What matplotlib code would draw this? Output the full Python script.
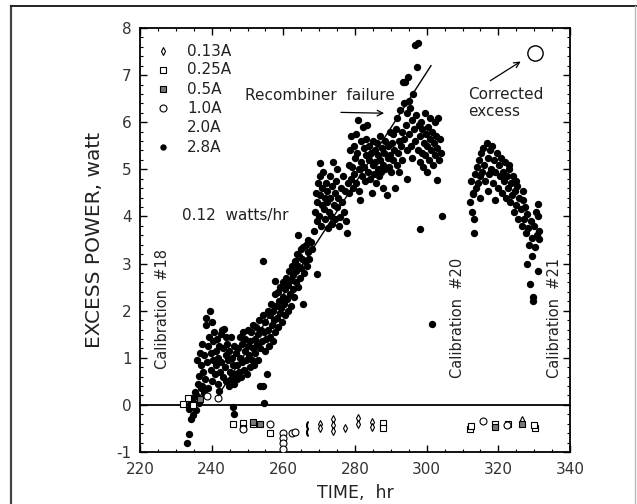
import matplotlib
matplotlib.use("Agg")
import matplotlib.pyplot as plt
from matplotlib.lines import Line2D
from matplotlib.ticker import MultipleLocator

plt.rcParams['font.family'] = ['DejaVu Sans']
plt.rcParams['axes.unicode_minus'] = False

# ---------------- data ----------------
# 2.8 A excess power points, grouped by stretch of the run: (time hr, power W)
seg_a = [(233.0,-0.80),(233.8,-0.62),(234.2,-0.30),(234.8,-0.22),(235.0,0.05),(235.3,0.28),
         (235.8,0.18),(236.2,0.45),(234.6,0.15),(236.6,0.05),(233.6,-0.08),(235.6,-0.10),
         (236.9,0.35),(234.0,0.02)]
seg_b = [(236.5,0.62),(236.8,1.10),(237.0,0.85),(237.2,0.40),(237.4,1.30),(237.6,0.70),(237.9,1.05),
         (238.1,0.55),(238.3,1.70),(238.5,1.85),(238.7,0.90),(238.9,1.25),(239.1,0.35),(239.3,1.45),
         (239.5,2.00),(239.7,0.75),(239.9,1.10),(240.1,0.50),(240.3,1.35),(240.5,0.95),(240.7,1.55),
         (240.9,0.65),(241.1,1.15),(241.3,0.85),(241.5,1.40),(241.7,0.45),(241.9,1.00),(242.1,1.25),
         (242.3,0.70),(242.5,1.50),(242.7,0.90),(242.9,1.60),(243.1,0.60),(243.3,1.20),(243.5,1.62),
         (243.7,0.80),(243.9,1.05),(244.1,0.50),(244.3,1.30),(244.5,0.95),(244.7,0.40),(244.9,1.15),
         (245.1,0.70),(245.3,1.45),(245.5,0.55),(245.7,1.00),(245.9,0.85),(246.1,1.25),(246.3,0.45),
         (246.5,0.65),(246.7,1.10),(236.0,0.95),(237.8,0.25),(240.0,1.75),(242.0,0.30),(244.0,1.45),
         (246.0,-0.05),(246.2,-0.20)]
seg_c = [(247.0,0.85),(247.2,0.55),(247.4,1.20),(247.6,0.70),(247.8,1.45),(248.0,1.00),(248.2,0.60),
         (248.4,1.30),(248.6,0.90),(248.8,1.55),(249.0,0.75),(249.2,1.15),(249.4,1.40),(249.6,0.95),
         (249.8,0.65),(250.0,1.25),(250.2,1.60),(250.4,1.05),(250.6,0.80),(250.8,1.35),(251.0,1.55),
         (251.2,0.95),(251.4,1.20),(251.6,1.70),(251.8,0.85),(252.0,1.40),(252.2,1.10),(252.4,1.65),
         (252.6,1.30),(252.8,0.95),(253.0,1.50),(253.2,1.80),(253.4,1.20),(253.6,0.40),(253.8,1.60),
         (254.0,1.35),(254.2,1.90),(254.3,3.06),(254.4,0.40),(254.5,0.04),(254.6,1.55),(254.8,1.15),
         (255.0,1.75),(255.2,1.40),(255.4,0.66),(255.6,2.00),(255.8,1.60),(256.0,1.25)]
seg_d = [(256.2,1.90),(256.4,1.45),(256.6,2.15),(256.8,1.70),(257.0,1.35),(257.2,2.00),(257.4,1.80),
         (257.6,2.35),(257.7,2.64),(257.8,1.55),(258.0,2.10),(258.2,1.85),(258.4,2.40),(258.6,1.65),
         (258.8,2.20),(259.0,1.95),(259.2,2.50),(259.4,2.05),(259.6,1.75),(259.8,2.30),(260.0,2.60),
         (260.2,2.15),(260.4,1.90),(260.6,2.45),(260.8,2.70),(261.0,2.25),(261.2,2.00),(261.4,2.55),
         (261.6,2.85),(261.8,2.35),(262.0,2.10),(262.2,2.65),(262.4,2.95),(262.6,2.45),(262.8,2.75),
         (263.0,2.30),(263.2,3.05),(263.4,2.60),(263.6,2.85),(263.8,3.20),(264.0,2.50),(264.1,3.60),
         (264.2,2.95),(264.4,3.15),(264.6,2.70),(264.8,3.30),(265.0,2.90),(265.2,3.10),(265.5,2.15),
         (265.6,3.35),(265.8,2.80),(266.0,3.05),(266.2,3.40),(266.5,2.95),(266.8,3.25),(267.0,3.50),
         (267.3,3.10),(267.6,3.45),(268.0,3.30),(269.4,2.77)]
seg_e = [(268.6,3.70),(268.9,4.10),(269.1,4.50),(269.3,3.90),(269.5,4.30),(269.7,4.70),(269.9,4.00),
         (270.1,4.45),(270.2,5.13),(270.3,4.85),(270.5,3.80),(270.7,4.25),(270.9,4.60),(271.1,4.95),
         (271.3,4.15),(271.5,4.40),(271.7,3.95),(271.9,4.70),(272.1,4.30),(272.3,4.55),(272.5,3.75),
         (272.7,4.10),(272.9,4.85),(273.1,4.40),(273.3,4.00),(273.5,4.65),(273.7,3.85),(273.9,5.15),
         (274.1,4.25),(274.3,4.50),(274.5,3.95),(274.7,4.75),(274.9,4.20),(275.1,5.00),(275.3,4.40),
         (275.5,3.80),(275.8,3.98),(276.0,4.60),(276.3,4.30),(276.6,4.85),(276.9,4.10),(277.2,4.55),
         (277.5,3.90),(277.8,3.64),(278.0,4.70)]
seg_f = [(278.2,5.10),(278.4,4.50),(278.6,5.40),(278.8,4.80),(279.0,5.70),(279.2,5.05),(279.4,4.60),
         (279.6,5.50),(279.8,4.90),(280.0,5.25),(280.2,5.75),(280.4,4.70),(280.6,5.35),(280.8,6.04),
         (281.0,5.00),(281.2,4.55),(281.4,4.34),(281.6,5.60),(281.8,5.15),(282.0,4.85),(282.2,5.90),
         (282.4,5.45),(282.6,5.05),(282.8,4.75),(283.0,5.30),(283.2,5.65),(283.4,5.94),(283.6,4.95),
         (283.8,5.20),(284.0,5.50),(284.2,4.80),(284.4,5.35),(284.7,4.49),(284.9,5.10),(285.1,5.60),
         (285.3,4.90),(285.5,5.40),(285.7,5.15),(285.9,4.70),(286.1,5.55),(286.3,5.00),(286.5,5.30),
         (286.7,4.85),(286.9,5.70),(287.1,5.20),(287.3,4.95),(287.5,5.45),(287.7,5.10),(287.9,4.60),
         (288.1,5.35),(288.3,5.60),(288.5,5.00),(288.9,4.45),(289.1,5.25),(289.3,5.50),(289.5,5.05),
         (289.7,5.80),(289.9,5.30),(290.1,4.95),(290.3,5.55),(290.5,5.20),(290.7,5.75)]
seg_g = [(291.0,5.40),(291.2,4.60),(291.4,5.85),(291.6,5.10),(291.8,6.10),(292.0,5.35),(292.2,5.60),
         (292.4,4.95),(292.6,6.25),(292.8,5.50),(293.0,5.80),(293.2,5.20),(293.4,6.85),(293.6,6.40),
         (293.8,5.65),(294.0,6.85),(294.2,5.95),(294.4,5.40),(294.5,4.80),(294.6,6.20),(294.8,6.96),
         (295.0,5.75),(295.2,6.45),(295.4,6.30),(295.6,5.50),(295.8,6.05),(296.0,5.25),(296.2,6.60),
         (296.4,5.85),(296.7,7.64),(296.8,5.60),(297.0,6.15),(297.3,7.17),(297.5,5.40),(297.6,7.68),
         (297.8,5.95),(298.0,5.15),(298.1,3.74),(298.2,5.70),(298.4,6.00),(298.6,5.35),(298.8,5.85),
         (299.0,5.05),(299.2,5.55),(299.4,6.20),(299.6,5.30),(299.8,5.75),(300.0,4.95),(300.2,5.50),
         (300.4,5.90),(300.6,5.20),(300.8,5.65),(301.0,6.10),(301.2,5.40),(301.5,1.72),(301.6,5.80),
         (301.8,5.10),(302.0,5.55),(302.2,6.00),(302.4,5.30),(302.6,5.70),(302.9,4.77),(303.0,5.45),
         (303.2,6.08),(303.4,5.20),(303.6,5.65),(304.0,5.35),(304.3,4.02)]
seg_h = [(312.2,4.30),(312.5,4.75),(312.8,4.50),(313.0,4.48),(313.1,3.95),(313.3,3.65),(313.4,4.90),
         (313.7,4.60),(314.0,5.05),(314.3,4.70),(314.6,5.20),(314.9,4.85),(315.2,5.35),(315.5,4.95),
         (315.8,5.45),(316.1,5.10),(316.4,4.75),(316.8,5.55),(317.1,5.25),(317.4,4.90),(317.7,5.40),
         (318.0,5.00),(318.3,5.50),(318.6,4.70),(318.9,5.20),(319.2,4.95),(319.5,5.35),(319.8,4.60),
         (320.1,5.10),(320.4,4.85),(320.7,5.25),(321.0,4.50),(321.3,4.95),(321.6,4.75),(312.6,4.10),
         (315.0,4.40),(317.0,4.55),(319.0,4.35),(321.8,5.15)]
seg_i = [(322.0,4.40),(322.3,4.85),(322.6,4.60),(322.9,5.00),(323.2,4.30),(323.5,4.70),(323.8,4.45),
         (324.1,4.85),(324.4,4.10),(324.7,4.55),(325.0,4.25),(325.3,4.65),(325.6,3.95),(325.9,4.40),
         (326.2,4.15),(326.5,3.80),(326.8,4.35),(327.1,3.95),(327.4,4.20),(327.7,3.65),(328.0,3.00),
         (328.0,4.05),(328.3,3.75),(328.6,3.40),(328.8,2.57),(329.0,3.90),(329.4,3.17),(329.5,3.55),
         (329.7,2.28),(329.8,2.20),(329.9,3.80),(330.2,3.35),(330.5,4.10),(330.8,3.60),(331.0,2.85),
         (331.0,4.27),(331.2,4.00),(331.3,3.70),(331.3,3.53),(327.0,4.55),(325.0,4.75),(323.0,5.10)]

# lower-current points
pts_013A = [(270.2,-0.40),(270.2,-0.50),(273.9,-0.30),(273.9,-0.42),(273.9,-0.55),(277.2,-0.48),
            (280.8,-0.27),(280.8,-0.40),(284.7,-0.37),(284.7,-0.47),(326.6,-0.33)]
pts_025A = [(232.0,0.02),(234.8,0.00),(233.4,0.15),(246.0,-0.41),(248.8,-0.38),(251.5,-0.40),
            (256.3,-0.60),(312.1,-0.51),(312.3,-0.45),(319.1,-0.40),(322.7,-0.40),(330.2,-0.50),
            (330.0,-0.42),(287.8,-0.38),(287.8,-0.50)]
pts_05A = [(236.7,0.13),(253.5,-0.40),(248.8,-0.49),(319.1,-0.46),(326.6,-0.40),(251.5,-0.36)]
pts_10A = [(238.7,0.19),(241.8,0.15),(256.3,-0.40),(259.9,-0.60),(259.9,-0.70),(259.9,-0.80),
           (259.9,-0.94),(262.3,-0.60),(263.2,-0.58),(315.7,-0.34),(322.5,-0.43),(248.8,-0.52)]
pts_20A = [(266.6,-0.42),(266.6,-0.58)]

# fitted 0.12 W/hr line and corrected excess point
fit_time = [241.8, 301.2]
fit_power = [0.2, 7.2]
corrected_time = [330.2]
corrected_power = [7.47]

legend_labels = ['0.13A', '0.25A', '0.5A', '1.0A', '2.0A', '2.8A']
legend_y = [7.51, 7.11, 6.70, 6.30, 5.89, 5.47]

# ---------------- figure ----------------
fig = plt.figure(figsize=(6.37, 5.04), dpi=100)
ax = fig.add_axes([140/637, 1-452/504, 430/637, 424/504])

main = seg_a + seg_b + seg_c + seg_d + seg_e + seg_f + seg_g + seg_h + seg_i
ax.plot([p[0] for p in main], [p[1] for p in main], 'o', color='black',
        markersize=5.3, markeredgewidth=0, zorder=3)

ax.plot([p[0] for p in pts_013A], [p[1] for p in pts_013A], 'd', mfc='white', mec='black',
        markersize=3.6, mew=0.8, zorder=3)
ax.plot([p[0] for p in pts_025A], [p[1] for p in pts_025A], 's', mfc='white', mec='black',
        markersize=4.0, mew=0.8, zorder=3)
ax.plot([p[0] for p in pts_05A], [p[1] for p in pts_05A], 's', mfc='#777777', mec='black',
        markersize=4.0, mew=0.8, zorder=3)
ax.plot([p[0] for p in pts_10A], [p[1] for p in pts_10A], 'o', mfc='white', mec='black',
        markersize=5.0, mew=0.8, zorder=3)
ax.plot([p[0] for p in pts_20A], [p[1] for p in pts_20A], marker='$($', linestyle='none',
        color='black', markersize=5, zorder=3)

ax.plot(corrected_time, corrected_power, 'o', mfc='white', mec='black', markersize=11, mew=1.0)
ax.plot(fit_time, fit_power, color='black', lw=1.0, zorder=4)
ax.axhline(0, color='black', lw=1.3, zorder=2)

# legend (drawn by hand as in the original)
leg_x_marker = 226.4
leg_x_text = 233.1
leg_styles = [dict(marker='d', mfc='white', mec='black', markersize=3.6, mew=0.8),
              dict(marker='s', mfc='white', mec='black', markersize=4.0, mew=0.8),
              dict(marker='s', mfc='#777777', mec='black', markersize=4.0, mew=0.8),
              dict(marker='o', mfc='white', mec='black', markersize=5.0, mew=0.8),
              None,
              dict(marker='o', color='black', markersize=4.6, mew=0)]
for lab, yy, st in zip(legend_labels, legend_y, leg_styles):
    if st is not None:
        ax.plot([leg_x_marker], [yy], linestyle='none', **st)
    ax.text(leg_x_text, yy, lab, fontsize=11, va='center', ha='left', color='#222222')

# annotations
ax.text(231.7, 4.02, '0.12  watts/hr', fontsize=11, va='center', ha='left', color='#222222')
ax.text(249.3, 6.57, 'Recombiner  failure', fontsize=11, va='center', ha='left', color='#222222')
ax.annotate('', xy=(288.9, 6.19), xytext=(275.3, 6.21),
            arrowprops=dict(arrowstyle='->', color='black', lw=0.9))
ax.text(311.5, 6.41, 'Corrected\nexcess', fontsize=11, va='center', ha='left',
        color='#222222', linespacing=1.15)
ax.annotate('', xy=(326.9, 7.32), xytext=(317.1, 6.85),
            arrowprops=dict(arrowstyle='->', color='black', lw=0.9))
ax.text(226.4, 0.77, 'Calibration  #18', rotation=90, fontsize=10.5, va='bottom', ha='center',
        color='#222222')
ax.text(308.7, 0.57, 'Calibration  #20', rotation=90, fontsize=10.5, va='bottom', ha='center',
        color='#222222')
ax.text(335.8, 0.57, 'Calibration  #21', rotation=90, fontsize=10.5, va='bottom', ha='center',
        color='#222222')

# axes styling
ax.set_xlim(220, 340)
ax.set_ylim(-1, 8)
ax.xaxis.set_major_locator(MultipleLocator(20))
ax.xaxis.set_minor_locator(MultipleLocator(5))
ax.yaxis.set_major_locator(MultipleLocator(1))
ax.yaxis.set_minor_locator(MultipleLocator(0.2))
ax.tick_params(which='both', direction='in', top=True, right=True, labelsize=11,
               colors='black', labelcolor='#333333')
ax.tick_params(which='major', length=5, width=1.0)
ax.tick_params(which='minor', length=2.5, width=0.8)
ax.tick_params(axis='x', which='major', pad=7)
ax.tick_params(axis='y', which='major', pad=6)
for s in ax.spines.values():
    s.set_linewidth(1.3)
ax.set_xlabel('TIME,  hr', fontsize=12.5, color='#222222', labelpad=5)
ax.set_ylabel('EXCESS POWER, watt', fontsize=14.5, color='#222222', labelpad=9)

# outer frame of the figure
fig.add_artist(Line2D([11/637, 11/637], [0, 1-6/504], color='#444444', lw=1.6,
                      transform=fig.transFigure))
fig.add_artist(Line2D([11/637, 636/637], [1-6/504, 1-6/504], color='#222222', lw=1.4,
                      transform=fig.transFigure))
fig.add_artist(Line2D([635/637, 635/637], [0, 1-6/504], color='#bbbbbb', lw=1.0,
                      transform=fig.transFigure))

fig.savefig('out.png', dpi=100)
